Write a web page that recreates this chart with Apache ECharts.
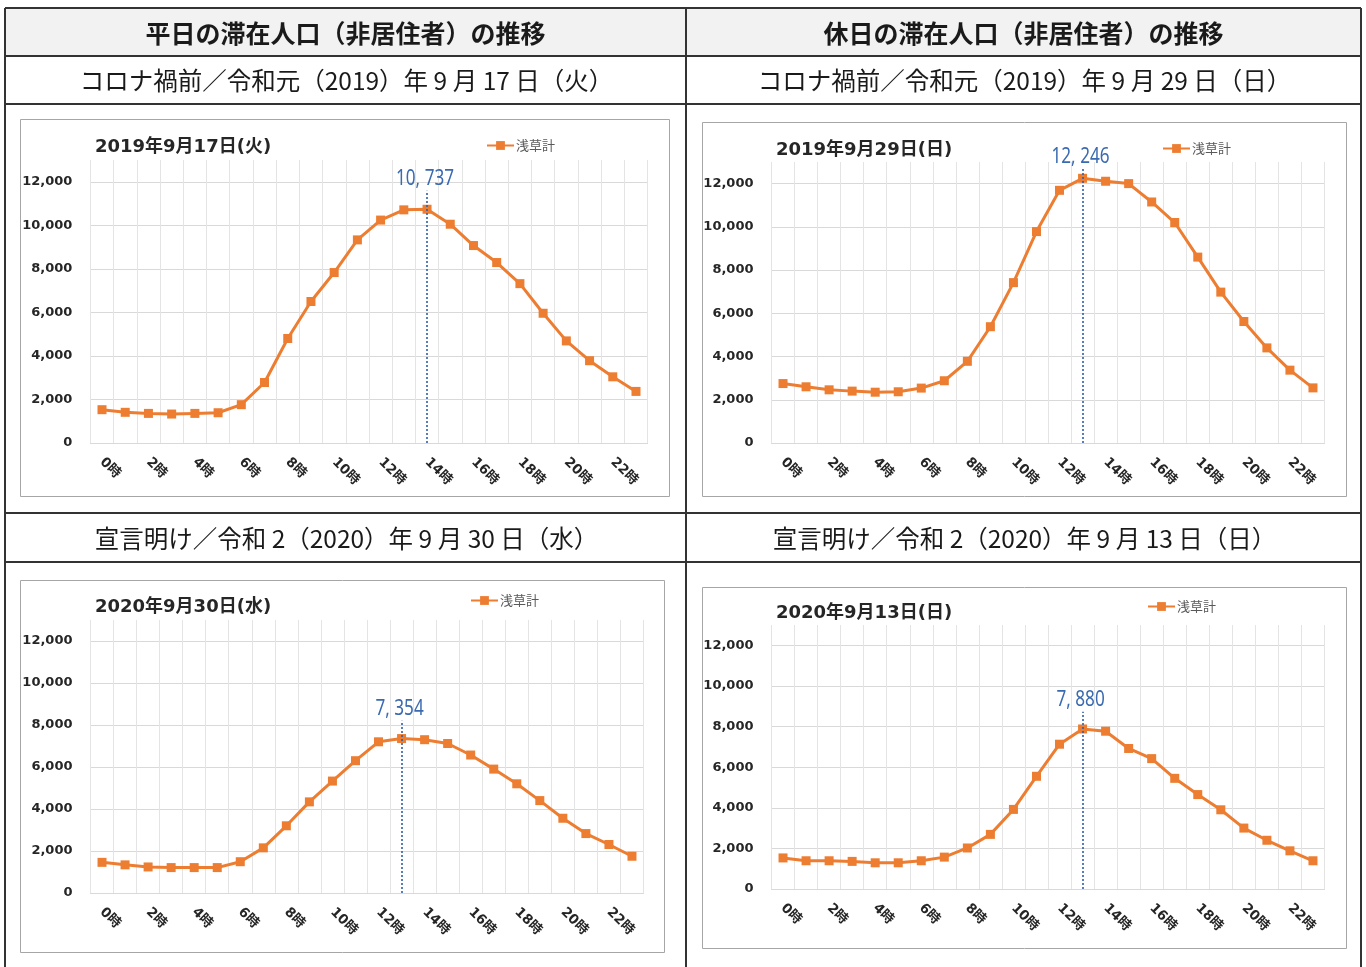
<!DOCTYPE html>
<html>
<head>
<meta charset="utf-8">
<script src="https://cdn.jsdelivr.net/npm/echarts@6/dist/echarts.min.js"></script>
<style>
  html, body { margin: 0; padding: 0; background: #ffffff; }
  #main { width: 1366px; height: 967px; }
</style>
</head>
<body>
<div id="main"></div>
<script>
// ---- data ---------------------------------------------------------------
const hours = ['0時','1時','2時','3時','4時','5時','6時','7時','8時','9時','10時','11時',
               '12時','13時','14時','15時','16時','17時','18時','19時','20時','21時','22時','23時'];
const yTicks = [0, 2000, 4000, 6000, 8000, 10000, 12000];
const seriesName = '浅草計';

// 2019-09-17 (Tue), weekday
const weekday2019 = [1530, 1410, 1360, 1330, 1360, 1390, 1760, 2780, 4800, 6500, 7830, 9330,
                     10240, 10710, 10737, 10050, 9070, 8290, 7320, 5960, 4690, 3780, 3040, 2370];
// 2019-09-29 (Sun), holiday
const holiday2019 = [2750, 2600, 2460, 2400, 2350, 2370, 2540, 2880, 3780, 5380, 7420, 9780,
                     11690, 12246, 12110, 12000, 11150, 10200, 8600, 6980, 5620, 4400, 3370, 2550];
// 2020-09-30 (Wed), weekday
const weekday2020 = [1460, 1340, 1240, 1210, 1210, 1210, 1490, 2150, 3200, 4340, 5330, 6300,
                     7200, 7354, 7300, 7120, 6570, 5900, 5200, 4400, 3560, 2830, 2310, 1750];
// 2020-09-13 (Sun), holiday
const holiday2020 = [1530, 1390, 1390, 1360, 1290, 1290, 1390, 1570, 2020, 2690, 3920, 5550,
                     7130, 7880, 7770, 6920, 6420, 5450, 4650, 3900, 3000, 2400, 1880, 1390];

const columnHeads = ['平日の滞在人口（非居住者）の推移', '休日の滞在人口（非居住者）の推移'];
const periodHeads = ['コロナ禍前／令和元（2019）年 9 月 17 日（火）',
                     'コロナ禍前／令和元（2019）年 9 月 29 日（日）',
                     '宣言明け／令和 2（2020）年 9 月 30 日（水）',
                     '宣言明け／令和 2（2020）年 9 月 13 日（日）'];
const chartTitles = ['2019年9月17日(火)', '2019年9月29日(日)', '2020年9月30日(水)', '2020年9月13日(日)'];
const panelValues = [weekday2019, holiday2019, weekday2020, holiday2020];

// ---- layout -------------------------------------------------------------
const W = 1366, H = 967;
const panels = [
  { box: [20, 119, 669, 496],  plot: [90.4, 160, 647.6, 443],  title: [95, 147],  legend: [486, 139] },
  { box: [702, 122, 1346, 496], plot: [771.5, 162, 1324.5, 443], title: [776, 150], legend: [1162, 142] },
  { box: [20, 580, 664, 952],  plot: [90.5, 620, 643.5, 893],  title: [95, 607],  legend: [470, 594] },
  { box: [702, 587, 1346, 948], plot: [771.5, 625, 1324.5, 889], title: [776, 613], legend: [1147, 600] }
];
const tableX = [5, 686, 1361];
const tableY = [8, 56, 104, 513, 562];
const PEAK_LINE_RISE = 850;   // how far the peak guide line reaches above the peak (data units)
const Y_MAX = 13000;

const ORANGE = '#ed7d31';
const BLUE = '#2f5fa8';
const INK = '#262626';
const LABEL_FONT = "'DejaVu Sans', 'Noto Sans CJK JP', sans-serif";
const CJK_FONT = "'Noto Sans CJK JP', sans-serif";

const fmtComma = v => String(v).replace(/\B(?=(\d{3})+(?!\d))/g, ',');

// ---- table frame ---------------------------------------------------------
const graphics = [];
graphics.push({ type: 'rect', z: -10, silent: true,
  shape: { x: tableX[0], y: tableY[0], width: tableX[2] - tableX[0], height: tableY[1] - tableY[0] },
  style: { fill: '#f2f2f2' } });
panels.forEach(p => {
  graphics.push({ type: 'rect', z: -5, silent: true,
    shape: { x: p.box[0] + 0.5, y: p.box[1] + 0.5, width: p.box[2] - p.box[0], height: p.box[3] - p.box[1] },
    style: { fill: '#ffffff', stroke: '#a6a6a6', lineWidth: 1 } });
});
tableY.forEach(y => graphics.push({ type: 'line', z: 5, silent: true,
  shape: { x1: tableX[0], y1: y, x2: tableX[2], y2: y }, style: { stroke: '#333333', lineWidth: 2 } }));
tableX.forEach(x => graphics.push({ type: 'line', z: 5, silent: true,
  shape: { x1: x, y1: tableY[0], x2: x, y2: H }, style: { stroke: '#333333', lineWidth: 2 } }));

const colCenters = [(tableX[0] + tableX[1]) / 2, (tableX[1] + tableX[2]) / 2];
columnHeads.forEach((t, i) => graphics.push({ type: 'text', z: 6, silent: true,
  x: colCenters[i], y: (tableY[0] + tableY[1]) / 2 + 1,
  style: { text: t, font: "bold 25px 'Noto Sans CJK JP', sans-serif", fill: '#1a1a1a',
           textAlign: 'center', textVerticalAlign: 'middle' } }));
periodHeads.forEach((t, i) => {
  const rowMid = i < 2 ? (tableY[1] + tableY[2]) / 2 : (tableY[3] + tableY[4]) / 2;
  graphics.push({ type: 'text', z: 6, silent: true,
    x: colCenters[i % 2] + 1, y: rowMid + 1,
    style: { text: t, font: "24.5px 'Noto Sans CJK JP', sans-serif", fill: '#1a1a1a',
             textAlign: 'center', textVerticalAlign: 'middle' } });
});

// ---- charts --------------------------------------------------------------
const grids = [], xAxes = [], yAxes = [], series = [], titles = [], legends = [], peaks = [];
panels.forEach((p, i) => {
  const [x0, y0, x1, y1] = p.plot;
  grids.push({ left: x0, top: y0, width: x1 - x0, height: y1 - y0, containLabel: false });
  xAxes.push({
    type: 'category', gridIndex: i, data: hours, boundaryGap: true,
    axisLine: { show: true, lineStyle: { color: '#d9d9d9', width: 1 } },
    axisTick: { show: false },
    splitLine: { show: true, interval: 0, lineStyle: { color: '#e4e4e4', width: 1 } },
    axisLabel: { interval: 1, rotate: -45, margin: 17, color: INK, fontWeight: 'bold',
                 fontSize: 13.5, fontFamily: LABEL_FONT }
  });
  yAxes.push({
    type: 'value', gridIndex: i, min: yTicks[0], max: Y_MAX, interval: yTicks[1] - yTicks[0],
    axisLine: { show: false }, axisTick: { show: false },
    splitLine: { show: true, showMaxLine: false, lineStyle: { color: '#d9d9d9', width: 1 } },
    axisLabel: { margin: 18, color: INK, fontWeight: 'bold', fontSize: 13, fontFamily: LABEL_FONT,
                 showMaxLabel: false,
                 formatter: v => (yTicks.indexOf(v) >= 0 ? fmtComma(v) : '') }
  });

  const vals = panelValues[i];
  const peak = Math.max(...vals);
  const peakIdx = vals.indexOf(peak);
  const lineTop = Math.min(peak + PEAK_LINE_RISE, Y_MAX - 300);
  peaks.push({ peak, peakIdx, lineTop });
  series.push({
    name: seriesName, type: 'line', xAxisIndex: i, yAxisIndex: i, data: vals,
    symbol: 'rect', symbolSize: 9, showAllSymbol: true,
    lineStyle: { color: ORANGE, width: 3 },
    itemStyle: { color: ORANGE },
    animation: false, z: 3,
    markLine: {
      silent: true, animation: false, symbol: ['none', 'none'],
      lineStyle: { color: BLUE, type: [2, 2], width: 1.6 },
      label: { show: false },
      data: [[{ coord: [hours[peakIdx], 0] }, { coord: [hours[peakIdx], lineTop] }]]
    }
  });

  titles.push({ text: chartTitles[i], left: p.title[0], top: p.title[1] - 9,
    textStyle: { fontSize: 18, fontWeight: 'bold', color: INK, fontFamily: LABEL_FONT },
    padding: 0 });
  legends.push({ data: [seriesName], left: p.legend[0], top: p.legend[1], padding: 0,
    itemWidth: 27, itemHeight: 11, itemGap: 2, selectedMode: false,
    textStyle: { fontSize: 13, color: '#595959', fontFamily: CJK_FONT, padding: [0, 0, 0, -3] } });
});

const chart = echarts.init(document.getElementById('main'), null, { renderer: 'canvas', width: W, height: H });
chart.setOption({
  backgroundColor: '#ffffff',
  animation: false,
  title: titles,
  legend: legends,
  grid: grids,
  xAxis: xAxes,
  yAxis: yAxes,
  series: series,
  graphic: { elements: graphics }
});

// Peak value labels: condensed blue numerals sitting on top of each guide line.
const peakLabels = peaks.map((pk, i) => {
  const [px, py] = chart.convertToPixel({ gridIndex: i }, [pk.peakIdx, pk.lineTop]);
  return { type: 'text', z: 20, silent: true, x: px - 2, y: py - 1, scaleX: 0.78, scaleY: 1,
    style: { text: fmtComma(pk.peak).replace(',', ', '),
             font: "22px 'Noto Sans', sans-serif", fill: '#3a6ab0',
             textAlign: 'center', textVerticalAlign: 'bottom' } };
});
chart.setOption({ graphic: { elements: graphics.concat(peakLabels) } });
</script>
</body>
</html>
